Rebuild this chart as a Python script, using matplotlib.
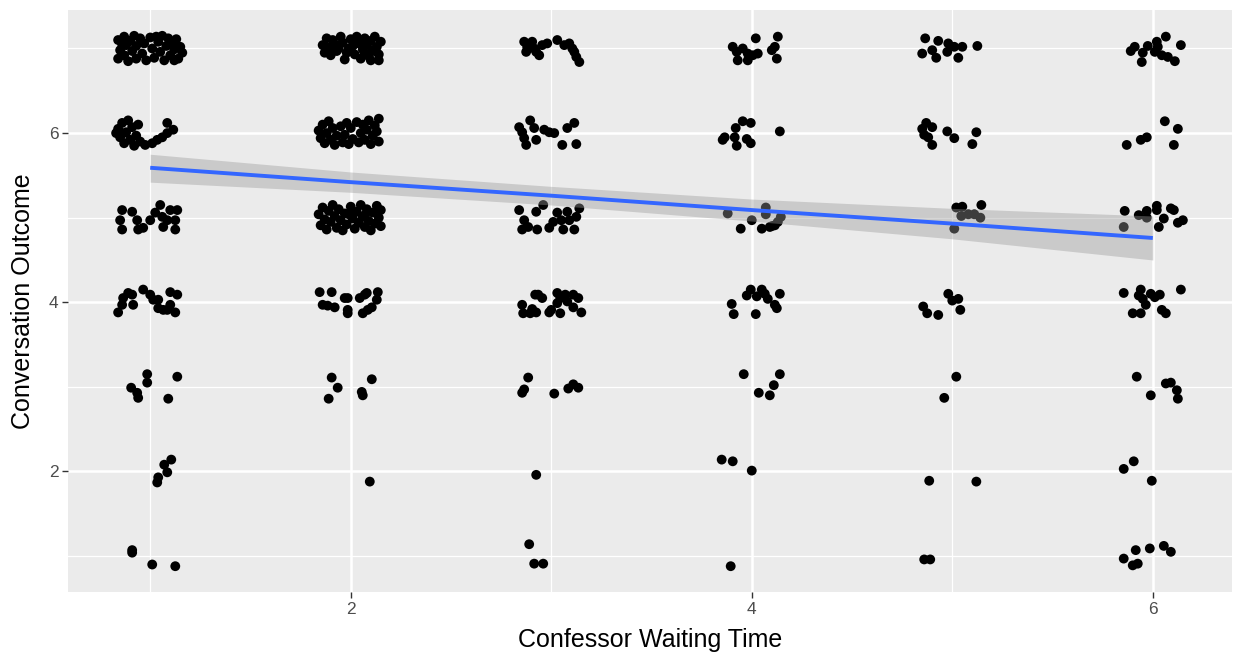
import matplotlib
matplotlib.use("Agg")
import matplotlib.pyplot as plt
import numpy as np

col1_pts = [
    (0.84,7.10),(0.85,6.98),(0.84,6.88),(0.87,7.14),(0.88,7.04),(0.87,6.92),(0.89,6.85),(0.90,7.09),
    (0.91,6.97),(0.92,7.15),(0.93,7.03),(0.93,6.88),(0.95,7.12),(0.96,6.94),(0.97,7.06),(1.00,7.13),
    (1.01,7.00),(1.02,6.89),(1.04,7.08),(1.05,6.96),(1.06,7.15),(1.07,6.86),(1.08,7.03),(1.09,7.12),
    (1.10,6.92),(1.11,7.05),(1.12,6.99),(1.13,7.11),(1.14,6.88),(1.15,7.02),(1.16,6.95),(1.12,6.86),
    (0.98,6.86),(0.86,7.05),(1.03,7.14),
    (0.84,6.05),(0.85,5.95),(0.86,6.12),(0.87,5.88),(0.88,6.01),(0.89,6.15),(0.90,5.92),(0.91,6.07),
    (0.92,5.85),(0.93,5.97),(0.94,6.10),(0.95,5.90),(0.86,5.99),(0.83,6.00),(0.975,5.86),(1.01,5.88),
    (1.035,5.92),(1.06,5.95),(1.085,6.00),(1.115,6.04),(1.085,6.12),
    (0.86,5.09),(0.85,4.97),(0.86,4.86),(0.91,5.07),(0.935,4.97),(0.94,4.86),(0.965,4.88),(1.00,4.97),
    (1.025,5.06),(1.05,5.15),(1.06,5.01),(1.065,4.89),(1.10,5.09),(1.125,4.97),(1.125,4.86),(1.135,5.09),
    (1.085,4.97),
    (0.84,3.88),(0.86,3.97),(0.865,4.05),(0.89,4.11),(0.91,4.09),(0.915,3.97),(0.965,4.15),(1.00,4.09),
    (1.015,4.03),(1.04,4.03),(1.04,3.93),(1.065,3.91),(1.10,4.12),(1.135,4.09),(1.10,3.97),(1.125,3.88),
    (1.085,3.91),
    (0.985,3.15),(0.985,3.05),(1.135,3.12),(0.905,2.99),(0.935,2.93),(0.94,2.87),(1.09,2.86),
    (1.105,2.14),(1.07,2.08),(1.085,1.99),(1.04,1.93),(1.035,1.87),
    (0.91,1.07),(0.91,1.04),(1.01,0.90),(1.125,0.88),
]

col2_pts = [
    (1.86,7.04),(1.87,6.95),(1.88,7.12),(1.89,7.01),(1.90,6.92),(1.91,7.10),(1.92,7.05),(1.93,6.97),
    (1.95,7.14),(1.96,7.07),(1.97,6.87),(1.98,6.95),(2.00,7.11),(2.01,7.03),(2.02,6.93),(2.03,7.14),
    (2.04,7.06),(2.05,6.88),(2.06,6.99),(2.07,7.12),(2.08,7.04),(2.09,6.91),(2.10,7.09),(2.11,6.98),
    (2.12,7.14),(2.13,7.02),(2.14,6.93),(2.15,7.08),(2.14,6.86),(2.10,6.86),(1.94,7.00),(1.99,7.00),
    (2.07,6.94),(1.88,6.99),(2.12,6.97),
    (1.84,6.03),(1.85,5.94),(1.86,6.10),(1.87,5.88),(1.88,6.00),(1.89,6.14),(1.90,5.92),(1.91,6.06),
    (1.92,5.86),(1.93,5.97),(1.95,6.08),(1.96,5.89),(1.97,5.98),(1.99,5.87),(2.00,6.06),(2.01,5.93),
    (2.03,6.13),(2.04,5.89),(2.05,6.00),(2.06,6.10),(2.07,5.92),(2.08,6.04),(2.09,6.15),(2.10,5.87),
    (2.11,5.97),(2.12,6.09),(2.13,6.02),(2.14,5.90),(2.14,6.17),(1.98,6.12),
    (1.84,5.04),(1.85,4.91),(1.86,5.12),(1.87,4.98),(1.88,4.86),(1.89,5.08),(1.90,4.95),(1.91,5.15),
    (1.92,5.02),(1.93,4.88),(1.94,5.10),(1.95,4.97),(1.96,4.85),(1.97,5.05),(1.98,4.92),(2.00,5.13),
    (2.01,4.99),(2.02,4.87),(2.03,5.07),(2.04,4.94),(2.05,5.15),(2.06,5.01),(2.07,4.89),(2.08,5.10),
    (2.09,4.96),(2.10,4.85),(2.11,5.06),(2.12,4.93),(2.13,5.14),(2.14,5.00),(2.15,4.90),(2.15,5.09),
    (1.99,5.04),(2.07,5.03),
    (1.845,4.12),(1.905,4.12),(1.86,3.97),(1.885,3.96),(1.92,3.94),(1.97,4.05),(1.985,4.05),(1.985,3.91),
    (1.985,3.87),(2.045,4.05),(2.07,4.09),(2.08,4.11),(2.06,3.87),(2.085,3.91),(2.105,3.94),(2.13,4.03),
    (2.135,4.12),
    (1.905,3.11),(1.935,2.99),(1.89,2.86),(2.055,2.94),(2.06,2.90),(2.105,3.09),
    (2.095,1.88),
]

col3_pts = [
    (2.865,7.08),(2.88,7.02),(2.875,6.96),(2.905,7.08),(2.925,6.96),(2.94,6.92),(2.955,7.04),(2.98,7.06),
    (3.03,7.10),(3.065,7.04),(3.09,7.06),(3.105,7.00),(3.115,6.96),(3.125,6.90),(3.14,6.84),(2.915,7.00),
    (2.84,6.07),(2.855,6.01),(2.865,5.94),(2.875,5.86),(2.895,6.15),(2.915,6.06),(2.925,5.92),(2.965,6.04),
    (2.99,6.01),(3.015,6.00),(3.055,5.86),(3.08,6.06),(3.115,6.12),(3.125,5.87),
    (2.84,5.09),(2.865,4.97),(2.855,4.86),(2.885,4.89),(2.925,5.07),(2.93,4.86),(2.96,5.15),(2.99,4.88),
    (3.01,4.95),(3.03,5.06),(3.05,4.97),(3.06,4.86),(3.08,5.07),(3.09,4.97),(3.115,4.86),(3.14,5.11),
    (3.125,5.01),
    (2.935,4.09),(2.955,4.05),(2.92,4.09),(2.855,3.97),(2.86,3.87),(2.895,3.87),(2.925,3.88),(2.905,3.92),
    (2.99,3.88),(3.03,4.11),(3.045,4.05),(3.03,3.99),(3.045,3.87),(3.07,4.09),(3.08,4.01),(3.11,4.09),
    (3.135,4.05),(3.11,3.94),(3.15,3.88),(3.00,3.91),
    (2.885,3.11),(2.865,2.97),(2.855,2.93),(3.015,2.92),(3.085,2.98),(3.11,3.03),(3.135,2.99),
    (2.925,1.96),
    (2.89,1.14),(2.915,0.91),(2.96,0.91),
]

col4_pts = [
    (4.02,7.12),(4.13,7.14),(3.905,7.02),(3.925,6.96),(3.955,7.00),(3.98,6.94),(3.93,6.86),(3.98,6.86),
    (4.005,6.92),(4.03,6.94),(4.10,6.98),(4.115,7.02),(4.125,6.88),
    (3.955,6.14),(3.995,6.12),(3.92,6.06),(3.865,5.95),(3.855,5.92),(3.915,5.95),(3.925,5.85),(3.975,5.93),
    (3.995,5.88),(4.14,6.02),
    (3.88,5.05),(3.945,4.87),(4.00,4.97),(4.05,4.87),(4.07,5.12),(4.07,5.04),(4.09,4.89),(4.115,4.91),
    (4.13,4.95),(4.145,5.01),(4.10,4.90),
    (3.995,4.15),(4.05,4.15),(3.975,4.08),(4.025,4.07),(4.065,4.10),(4.08,4.04),(4.14,4.10),(3.90,3.98),
    (3.91,3.86),(4.02,3.86),(4.115,3.97),(4.125,3.93),
    (3.96,3.15),(4.14,3.15),(4.11,3.02),(4.035,2.93),(4.09,2.90),
    (3.85,2.14),(3.905,2.12),(4.00,2.01),
    (3.895,0.88),
]

col5_pts = [
    (4.865,7.12),(4.93,7.09),(4.98,7.06),(5.01,7.02),(5.05,7.02),(5.125,7.03),(4.90,6.98),(4.85,6.94),
    (4.975,6.96),(4.92,6.89),(5.03,6.89),
    (4.87,6.12),(4.90,6.07),(4.85,6.05),(4.86,5.98),(4.88,5.95),(4.90,5.86),(4.975,6.02),(5.01,5.94),
    (5.12,6.01),(5.10,5.87),
    (5.02,5.12),(5.05,5.13),(5.145,5.15),(5.045,5.02),(5.08,5.04),(5.11,5.04),(5.14,5.00),(5.01,4.87),
    (4.98,4.10),(5.00,4.02),(5.03,4.04),(4.855,3.95),(4.875,3.87),(4.93,3.85),(5.04,3.91),
    (5.02,3.12),(4.96,2.87),
    (4.885,1.89),(5.12,1.88),
    (4.86,0.96),(4.89,0.96),
]

col6_pts = [
    (6.065,7.14),(6.14,7.04),(6.02,7.08),(5.975,7.03),(5.91,7.02),(5.89,6.97),(5.95,6.95),(5.945,6.84),
    (6.01,6.96),(6.045,6.92),(6.075,6.90),(6.11,6.85),(6.025,7.02),
    (6.06,6.14),(6.125,6.05),(5.97,5.95),(5.94,5.92),(5.87,5.86),(6.105,5.86),
    (5.86,5.08),(5.93,5.03),(5.97,5.08),(5.97,5.00),(6.02,5.14),(6.02,5.09),(6.09,5.11),(6.105,5.09),
    (6.055,4.99),(6.03,4.89),(6.125,4.94),(6.15,4.97),(5.855,4.89),
    (5.855,4.11),(5.94,4.15),(5.93,4.08),(5.95,4.04),(5.965,3.97),(5.99,4.10),(6.01,4.06),(6.035,4.09),
    (6.14,4.15),(5.90,3.87),(5.94,3.87),(6.045,3.91),(6.065,3.87),
    (5.92,3.12),(6.065,3.04),(6.09,3.05),(6.12,2.96),(6.125,2.86),(5.99,2.90),
    (5.905,2.12),(5.855,2.03),(5.995,1.89),
    (5.985,1.09),(6.055,1.12),(6.09,1.05),(5.915,1.07),(5.855,0.97),(5.90,0.89),(5.925,0.91),
]

# linear smooth (geom_smooth method="lm")
fit_x = [1, 2, 3, 4, 5, 6]
fit_y = [5.59, 5.42, 5.26, 5.09, 4.93, 4.76]
fit_lo = [5.42, 5.30, 5.15, 4.96, 4.75, 4.50]
fit_hi = [5.75, 5.54, 5.37, 5.22, 5.11, 5.02]

x_ticks = [2, 4, 6]
y_ticks = [2, 4, 6]
x_minor = [1, 3, 5]
y_minor = [1, 3, 5, 7]
x_title = "Confessor Waiting Time"
y_title = "Conversation Outcome"

# ---------------- plot ----------------
plt.rcParams['font.family'] = ['Liberation Sans', 'DejaVu Sans']

fig = plt.figure(figsize=(12.38, 6.53), dpi=100)
ax = fig.add_axes([68/1238, 1-592/653, (1232-68)/1238, (592-10)/653])
ax.set_facecolor('#EBEBEB')
for s in ax.spines.values():
    s.set_visible(False)

ax.set_xlim(0.59, 6.395)
ax.set_ylim(0.575, 7.455)

for v in x_minor:
    ax.axvline(v, color='white', lw=0.9, zorder=0.5)
for v in y_minor:
    ax.axhline(v, color='white', lw=0.9, zorder=0.5)
for v in x_ticks:
    ax.axvline(v, color='white', lw=1.8, zorder=0.6)
for v in y_ticks:
    ax.axhline(v, color='white', lw=1.8, zorder=0.6)

all_pts = col1_pts + col2_pts + col3_pts + col4_pts + col5_pts + col6_pts
px = [p[0] for p in all_pts]
py = [p[1] for p in all_pts]
ax.scatter(px, py, s=50, color='black', edgecolors='none', zorder=2)

ax.fill_between(fit_x, fit_lo, fit_hi, color='#999999', alpha=0.4, lw=0, zorder=3)
ax.plot(fit_x, fit_y, color='#3366FF', lw=2.8, zorder=4, solid_capstyle='butt')

ax.set_xticks(x_ticks)
ax.set_yticks(y_ticks)
ax.set_xticklabels([str(t) for t in x_ticks])
ax.set_yticklabels([str(t) for t in y_ticks])
ax.tick_params(axis='both', colors='#333333', length=4, width=1.0, labelsize=12.5,
               labelcolor='#4D4D4D', pad=3)

ax.set_xlabel(x_title, fontsize=18, color='black', labelpad=8)
ax.set_ylabel(y_title, fontsize=18, color='black', labelpad=10)

fig.savefig('out.png', dpi=100, facecolor='white')
